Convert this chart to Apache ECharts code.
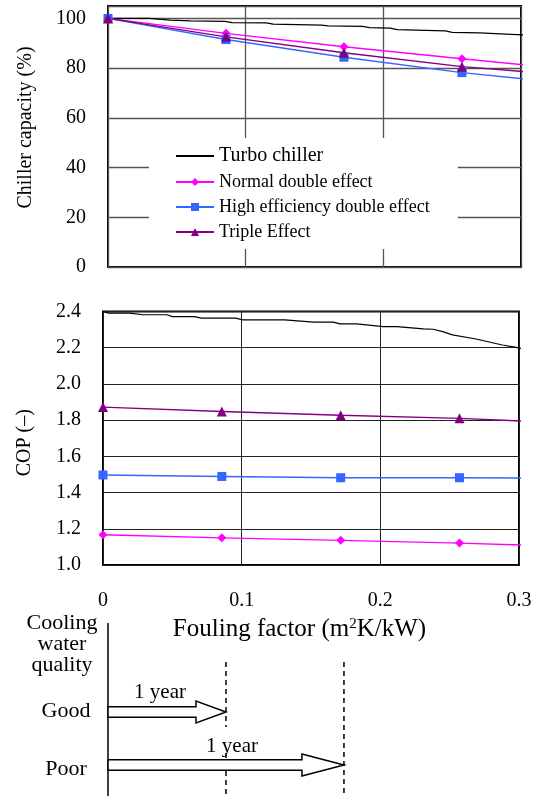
<!DOCTYPE html>
<html><head><meta charset="utf-8">
<script src="https://cdn.jsdelivr.net/npm/echarts@6/dist/echarts.min.js"></script>
<style>html,body{margin:0;padding:0;background:#fff}#c{width:535px;height:796px}</style>
</head><body><div id="c"></div>
<script>
// ---------- data ----------
const seriesNames = ['Turbo chiller', 'Normal double effect', 'High efficiency double effect', 'Triple Effect'];
// fouling factor at markers; the last entry is the end of the drawn line (no marker)
const foulingX = [0, 0.0857, 0.1714, 0.2571, 0.3044];
const capNormal = [100, 94.0, 88.6, 83.8, 81.2];
const capHigh   = [100, 91.5, 84.4, 78.2, 75.6];
const capTriple = [100, 92.6, 86.2, 80.6, 78.5];
const capTurboX = [0, 0.03, 0.045, 0.06, 0.085, 0.09, 0.115, 0.12, 0.155, 0.16, 0.185, 0.19, 0.205, 0.21, 0.245, 0.25, 0.27, 0.285, 0.3044];
const capTurbo  = [100, 100, 99.3, 99.0, 98.8, 98.3, 98.2, 97.7, 97.3, 97.0, 96.8, 96.3, 96.1, 95.5, 95.0, 94.4, 94.2, 93.8, 93.3];
const copNormal = [1.167, 1.150, 1.136, 1.121, 1.110];
const copHigh   = [1.497, 1.489, 1.482, 1.482, 1.480];
const copTriple = [1.872, 1.848, 1.827, 1.810, 1.794];
const copTurboX = [0, 0.004, 0.019, 0.029, 0.046, 0.050, 0.066, 0.071, 0.0955, 0.101, 0.131, 0.152, 0.166, 0.171, 0.183, 0.202, 0.212, 0.231, 0.238, 0.245, 0.252, 0.269, 0.288, 0.298, 0.3044];
const copTurbo  = [2.400, 2.391, 2.391, 2.382, 2.382, 2.372, 2.372, 2.363, 2.363, 2.354, 2.354, 2.341, 2.341, 2.332, 2.332, 2.317, 2.317, 2.304, 2.302, 2.289, 2.271, 2.248, 2.215, 2.202, 2.191];
const capTickLabels = ['0', '20', '40', '60', '80', '100'];
const copTickLabels = ['1.0', '1.2', '1.4', '1.6', '1.8', '2.0', '2.2', '2.4'];
const xTickLabels = ['0', '0.1', '0.2', '0.3'];
// fouling factor reached after 1 year
const goodFouling = 0.0857;
const poorFouling = 0.1714;

// ---------- chart ----------
const FONT = '"Liberation Serif", "Times New Roman", serif';
const colors = ['#000000', '#FF00FF', '#3366FF', '#800080'];
const symbols = ['none', 'diamond', 'rect', 'triangle'];

function markerData(ys) {
  return foulingX.map((x, i) => i === foulingX.length - 1 ? { value: [x, ys[i]], symbol: 'none' } : [x, ys[i]]);
}
function plainData(xs, ys) { return xs.map((x, i) => [x, ys[i]]); }

function mkSeries(idx, grid, data) {
  return {
    name: seriesNames[idx], type: 'line', xAxisIndex: grid, yAxisIndex: grid,
    data: data, clip: false, animation: false,
    symbol: symbols[idx], symbolSize: idx === 3 ? 10 : 9,
    showAllSymbol: true,
    lineStyle: { color: colors[idx], width: idx === 0 ? 1.2 : 1.4 },
    itemStyle: { color: colors[idx] },
    emphasis: { disabled: true }
  };
}

const chart = echarts.init(document.getElementById('c'), null, { renderer: 'canvas' });
const labelStyle = { color: '#000', fontSize: 20, fontFamily: FONT };

const legendData = seriesNames.map((n, i) => i === 0 ? { name: n, itemStyle: { opacity: 0 } } : { name: n });

const option = {
  animation: false,
  backgroundColor: '#fff',
  textStyle: { fontFamily: FONT },
  grid: [
    { left: 108, top: 6, width: 413, height: 261, show: true, borderColor: '#000', borderWidth: 2, containLabel: false },
    { left: 103, top: 311.5, width: 416, height: 253.5, show: true, borderColor: '#000', borderWidth: 2, containLabel: false }
  ],
  xAxis: [
    { type: 'value', gridIndex: 0, min: 0, max: 0.3, interval: 0.1,
      axisLine: { show: false }, axisTick: { show: false }, axisLabel: { show: false },
      splitLine: { show: true, lineStyle: { color: '#555', width: 1.3 } } },
    { type: 'value', gridIndex: 1, min: 0, max: 0.3, interval: 0.1,
      axisLine: { show: false }, axisTick: { show: false },
      axisLabel: Object.assign({ margin: 26, formatter: v => xTickLabels[Math.round(v * 10)] }, labelStyle),
      splitLine: { show: true, lineStyle: { color: '#222', width: 1 } },
      name: '{a|Fouling factor (m}{s|2}{a|K/kW)}', nameLocation: 'middle', nameGap: 52,
      nameTextStyle: { padding: [0, 23, 0, 0],
        rich: { a: { fontSize: 25, fontFamily: FONT, color: '#000' },
                s: { fontSize: 15, fontFamily: FONT, color: '#000', verticalAlign: 'top', padding: [0, 0, 10, 0] } } } }
  ],
  yAxis: [
    { type: 'value', gridIndex: 0, min: 0, max: 105, interval: 20,
      axisLine: { show: false }, axisTick: { show: false },
      axisLabel: Object.assign({ margin: 22, formatter: v => (v % 20 === 0 ? capTickLabels[v / 20] : '') }, labelStyle),
      splitLine: { show: true, lineStyle: { color: '#555', width: 1.3 } },
      name: 'Chiller capacity (%)', nameLocation: 'middle', nameGap: 72,
      nameTextStyle: { color: '#000', fontSize: 20, fontFamily: FONT, padding: [0, 0, 0, 18] } },
    { type: 'value', gridIndex: 1, min: 1.0, max: 2.4, interval: 0.2,
      axisLine: { show: false }, axisTick: { show: false },
      axisLabel: Object.assign({ margin: 22, formatter: v => copTickLabels[Math.round((v - 1) * 5)] }, labelStyle),
      splitLine: { show: true, lineStyle: { color: '#222', width: 1 } },
      name: 'COP (\u2013)', nameLocation: 'middle', nameGap: 68,
      nameTextStyle: { color: '#000', fontSize: 20, fontFamily: FONT, padding: [0, 9, 0, 0] } }
  ],
  legend: {
    data: legendData, orient: 'vertical', left: 149, top: 138,
    backgroundColor: '#fff', padding: [8, 28, 8, 26], itemGap: 7,
    itemWidth: 38, itemHeight: 10,
    formatter: n => n === seriesNames[0] ? '{b|' + n + '}' : n,
    textStyle: { color: '#000', fontSize: 18, fontFamily: FONT,
      rich: { b: { fontSize: 20, fontFamily: FONT, color: '#000' } } },
    selectedMode: false
  },
  series: [
    mkSeries(0, 0, plainData(capTurboX, capTurbo)),
    mkSeries(1, 0, markerData(capNormal)),
    mkSeries(2, 0, markerData(capHigh)),
    mkSeries(3, 0, markerData(capTriple)),
    mkSeries(0, 1, plainData(copTurboX, copTurbo)),
    mkSeries(1, 1, markerData(copNormal)),
    mkSeries(2, 1, markerData(copHigh)),
    mkSeries(3, 1, markerData(copTriple))
  ]
};
chart.setOption(option);

// ---------- cooling water quality diagram (x from the fouling-factor scale) ----------
const px = v => chart.convertToPixel({ xAxisIndex: 0 }, v);
const x0 = px(0), xGood = px(goodFouling), xPoor = px(poorFouling);
const ink = { stroke: '#000', lineWidth: 1.5 };
function arrow(tip, yc, hl) {
  const sh = 5.3, hh = 11;
  return { type: 'polygon', shape: { points: [[x0, yc - sh], [tip - hl, yc - sh], [tip - hl, yc - hh], [tip, yc], [tip - hl, yc + hh], [tip - hl, yc + sh], [x0, yc + sh]] },
           style: { fill: '#fff', stroke: '#000', lineWidth: 1.5 }, z: 10 };
}
function txt(x, y, s, size) {
  return { type: 'text', x: x, y: y, style: { text: s, fill: '#000', font: size + 'px ' + FONT, align: 'center', verticalAlign: 'middle' }, z: 20 };
}
chart.setOption({
  graphic: [
    { type: 'line', shape: { x1: x0, y1: 623, x2: x0, y2: 796 }, style: ink, z: 5 },
    { type: 'line', shape: { x1: xGood, y1: 662, x2: xGood, y2: 727 }, style: Object.assign({ lineDash: [5, 4] }, ink), z: 5 },
    { type: 'line', shape: { x1: xGood, y1: 753, x2: xGood, y2: 796 }, style: Object.assign({ lineDash: [5, 4] }, ink), z: 5 },
    { type: 'line', shape: { x1: xPoor, y1: 662, x2: xPoor, y2: 796 }, style: Object.assign({ lineDash: [5, 4] }, ink), z: 5 },
    arrow(xGood, 712, 30),
    arrow(xPoor, 765, 42),
    txt(62, 623, 'Cooling', 22),
    txt(62, 644, 'water', 22),
    txt(62, 665, 'quality', 22),
    txt(66, 711, 'Good', 22),
    txt(66, 769, 'Poor', 22),
    txt(160, 692, '1 year', 21),
    txt(232, 746, '1 year', 21)
  ]
});
</script></body></html>
